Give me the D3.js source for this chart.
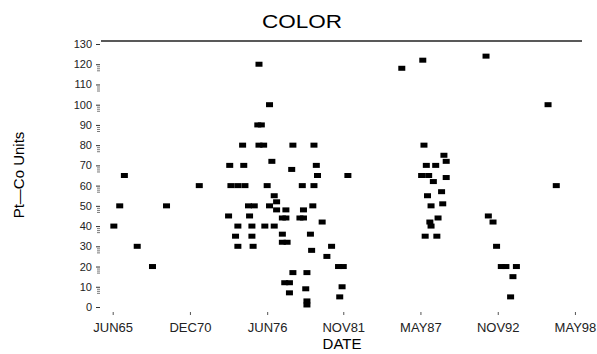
<!DOCTYPE html>
<html>
<head>
<meta charset="utf-8">
<script src="https://cdn.jsdelivr.net/npm/d3@7"></script>
<style>
  body { margin: 0; background: #fff; }
  svg { display: block; font-family: "Liberation Sans", Arial, sans-serif; }
</style>
</head>
<body>
<svg id="chart" width="597" height="354"></svg>
<script>
// sample dates (year-month) and colour readings, Pt-Co units
var dates = [
  "1965-07","1965-12","1966-04","1967-03","1968-04","1969-04","1971-08",
  "1975-11","1976-08","1975-10","1976-01",
  "1974-09","1975-11","1976-03","1978-04","1979-10",
  "1973-10","1974-10","1976-10","1978-03","1979-12","1980-01","1982-03",
  "1973-11","1974-05","1974-11","1976-06","1978-12","1979-10",
  "1976-12","1975-02","1975-07","1976-08","1977-02",
  "1973-09","1975-03","1977-02","1977-10","1979-01","1979-09",
  "1974-05","1975-05","1976-04","1976-12",
  "1977-07","1977-10","1978-10","1979-01","1980-05",
  "1974-03","1975-05","1977-07","1979-07","1977-07","1977-11",
  "1974-05","1975-06","1981-01","1979-08","1980-09","1981-07","1981-11",
  "1978-04","1979-04","1977-09","1978-01","1978-01","1979-03","1981-10","1981-08",
  "1979-04","1979-04",
  "1986-01","1987-07","1987-08","1989-01","1989-03","1987-10","1988-06",
  "1987-06","1987-12","1988-04","1989-03","1988-11","1987-11","1988-02",
  "1988-12","1988-08","1988-01","1988-02","1987-09","1988-07",
  "1992-01","1992-03","1992-07","1992-10","1993-02","1993-06","1994-03","1993-12","1993-10",
  "1996-06","1997-01"
];
var colorValues = [
  40,50,65,30,20,50,60,
  120,100,90,90,
  80,80,80,80,80,
  70,70,72,68,70,65,65,
  60,60,60,60,60,60,
  55,50,50,50,52,
  45,45,48,48,48,50,
  40,40,40,40,
  44,44,44,44,42,
  35,35,36,36,32,32,
  30,30,30,28,25,20,20,
  17,17,12,12,7,9,10,5,
  3,1,
  118,122,80,75,72,70,70,
  65,65,62,64,57,55,50,
  51,44,42,40,35,35,
  124,45,42,30,20,20,20,15,5,
  100,60
];

var yTicks = d3.range(0, 131, 10);
var yMinor = d3.range(0, 125).filter(function (d) { return d % 10 >= 7; });
var xTickDates = ["1965-06","1970-12","1976-06","1981-11","1987-05","1992-11","1998-05"];
var xTickLabels = ["JUN65","DEC70","JUN76","NOV81","MAY87","NOV92","MAY98"];

var parseMonth = d3.timeParse("%Y-%m");
var points = dates.map(function (d, i) { return {date: parseMonth(d), value: colorValues[i]}; });

var svg = d3.select("#chart");

var x = d3.scaleTime()
    .domain([parseMonth("1964-08"), parseMonth("1998-11")])
    .range([101, 582]);
var y = d3.scaleLinear().domain([0, 130]).range([307, 44]);

// title + frame line
svg.append("text")
    .attr("x", 302).attr("y", 28)
    .attr("text-anchor", "middle")
    .attr("font-size", 18)
    .attr("textLength", 80)
    .attr("lengthAdjust", "spacingAndGlyphs")
    .text("COLOR");

svg.append("line")
    .attr("x1", 101).attr("x2", 582)
    .attr("y1", y(130) - 3).attr("y2", y(130) - 3)
    .attr("stroke", "#222").attr("stroke-width", 1.3);

// y axis: major ticks with labels, minor ticks
var yAxis = svg.append("g")
    .attr("transform", "translate(100,0)")
    .call(d3.axisLeft(y).tickValues(yTicks).tickSize(4).tickPadding(4));
yAxis.select(".domain").remove();
yAxis.selectAll("text").attr("font-size", 11).attr("fill", "#222")
    .attr("font-family", "Liberation Sans, Arial, sans-serif");
yAxis.selectAll("line").attr("stroke", "#333");

var yAxisMinor = svg.append("g")
    .attr("transform", "translate(100,0)")
    .call(d3.axisLeft(y).tickValues(yMinor).tickSize(3).tickFormat(""));
yAxisMinor.select(".domain").remove();
yAxisMinor.selectAll("line").attr("stroke", "#555").attr("stroke-width", 0.8);

// x axis
var xAxis = svg.append("g")
    .attr("transform", "translate(0,312)")
    .call(d3.axisBottom(x)
        .tickValues(xTickDates.map(parseMonth))
        .tickFormat(function (d, i) { return xTickLabels[i]; })
        .tickSize(3).tickPadding(8));
xAxis.select(".domain").remove();
xAxis.selectAll("line").attr("stroke", "#555");
xAxis.selectAll("text").attr("font-size", 13).attr("fill", "#222")
    .attr("font-family", "Liberation Sans, Arial, sans-serif");

// axis titles
svg.append("text")
    .attr("x", 342).attr("y", 349)
    .attr("text-anchor", "middle")
    .attr("font-size", 15)
    .text("DATE");

svg.append("text")
    .attr("transform", "translate(24,175) rotate(-90)")
    .attr("text-anchor", "middle")
    .attr("font-size", 15)
    .text("Pt\u2014Co Units");

// points
svg.append("g").selectAll("rect")
    .data(points)
    .enter().append("rect")
    .attr("x", function (d) { return x(d.date) - 3.5; })
    .attr("y", function (d) { return y(d.value) - 2.5; })
    .attr("width", 7)
    .attr("height", 5)
    .attr("fill", "#000");
</script>
</body>
</html>
